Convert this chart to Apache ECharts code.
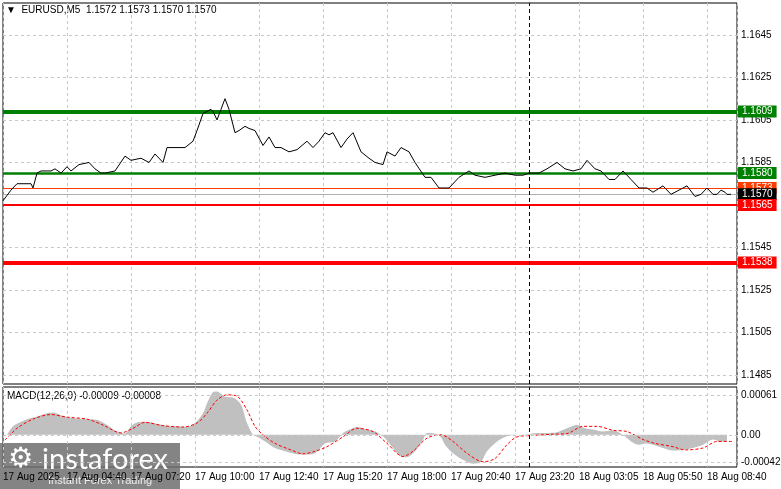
<!DOCTYPE html>
<html>
<head>
<meta charset="utf-8">
<script src="https://cdn.jsdelivr.net/npm/echarts@6/dist/echarts.min.js"></script>
<style>html,body{margin:0;padding:0;background:#fff}#main{width:781px;height:489px}</style>
</head>
<body>
<div id="main"></div>
<script>
// bar index (5 min bars) and close price
var priceBars = [0,4,7,14,15,17,19,24,26,29,32,34,38,43,46,49,51,56,61,64,69,73,76,77,80,82,91,95,97,100,104,105,107,109,111,113,116,118,121,123,126,130,133,136,139,143,147,152,155,158,161,163,165,169,172,175,179,183,186,190,192,196,199,203,206,211,214,218,223,228,233,236,241,246,251,256,260,263,268,272,277,281,285,289,292,296,299,303,306,310,314,318,322,325,330,334,338,342,346,349,352,355,357,359,361,362,364];
var priceVals = [1.1567,1.1572,1.1575,1.1575,1.1573,1.1580,1.1581,1.1581,1.1582,1.1580,1.1583,1.1581,1.1584,1.1585,1.1582,1.1580,1.1580,1.1581,1.1588,1.1586,1.1587,1.1585,1.1589,1.1588,1.1585,1.1592,1.1592,1.1595,1.1600,1.1608,1.1610,1.1609,1.1605,1.1610,1.1615,1.1610,1.1599,1.1600,1.1602,1.1601,1.1600,1.1593,1.1597,1.1592,1.1592,1.1590,1.1591,1.1595,1.1592,1.1595,1.1599,1.1598,1.1599,1.1592,1.1596,1.1599,1.1590,1.1587,1.1585,1.1584,1.1590,1.1588,1.1592,1.1590,1.1585,1.1578,1.1578,1.1573,1.1573,1.1578,1.1581,1.1579,1.1578,1.1579,1.1580,1.1579,1.1579,1.1580,1.1580,1.1582,1.1585,1.1582,1.1581,1.1582,1.1586,1.1582,1.1581,1.1577,1.1577,1.1581,1.1577,1.1573,1.1573,1.1571,1.1574,1.1570,1.1572,1.1574,1.1569,1.1570,1.1573,1.1570,1.1570,1.1572,1.1571,1.1570,1.1570];
// MACD histogram
var histBars = [2,5,9,12,17,22,25,29,32,37,42,47,52,57,61,64,67,72,77,82,87,92,96,100,102,105,107,111,115,119,122,125,127,131,136,141,146,151,156,161,166,170,174,177,182,187,191,195,199,202,206,210,212,216,219,221,225,230,235,239,242,247,252,257,262,267,272,277,282,287,291,295,300,305,310,314,318,321,325,330,335,340,345,350,355,359,362,365];
var histVals = [0,0.00013,0.00020,0.00024,0.00028,0.00033,0.00034,0.00030,0.00027,0.00025,0.00024,0.00023,0.00015,0.00005,0.00002,0.00013,0.00019,0.00020,0.00017,0.00014,0.00013,0.00012,0.00018,0.00033,0.00048,0.00065,0.00066,0.00058,0.00057,0.00046,0.00018,0,-0.00003,-0.00010,-0.00020,-0.00025,-0.00029,-0.00030,-0.00028,-0.00013,-0.00010,0.00003,0.00009,0.00012,0.00008,0.00004,-0.00005,-0.00020,-0.00033,-0.00034,-0.00025,-0.00008,0.00003,0.00002,-0.00004,-0.00015,-0.00028,-0.00038,-0.00044,-0.00041,-0.00025,-0.00010,-0.00002,0,0.00001,0.00003,0.00003,0.00004,0.00010,0.00015,0.00010,0.00008,0.00005,0.00007,0,-0.00010,-0.00015,-0.00013,-0.00015,-0.00020,-0.00024,-0.00023,-0.00020,-0.00015,-0.00007,-0.00010,-0.00010];
// MACD signal
var sigBars = [1,7,15,24,32,42,50,59,65,71,80,90,97,102,107,112,117,122,126,130,136,144,150,156,162,170,177,185,192,200,205,212,219,225,232,240,246,252,257,265,275,282,290,297,305,312,320,326,335,341,350,357,365];
var sigVals = [-0.00008,0.00010,0.00024,0.00031,0.00027,0.00024,0.00015,0.00003,0.00010,0.00019,0.00014,0.00012,0.00018,0.00033,0.00053,0.00061,0.00059,0.00038,0.00013,0,-0.00013,-0.00023,-0.00029,-0.00025,-0.00018,-0.00003,0.00010,0.00005,-0.00013,-0.00033,-0.00025,-0.00005,0,-0.00010,-0.00028,-0.00041,-0.00036,-0.00015,-0.00003,-0.00001,0.00001,0.00002,0.00013,0.00013,0.00007,0.00005,-0.00007,-0.00013,-0.00018,-0.00023,-0.00020,-0.00010,-0.00010];
var priceTicks = [1.1645,1.1625,1.1605,1.1585,1.1545,1.1525,1.1505,1.1485];
var macdTicks = [0.00061, 0, -0.00042];
var xLabels = ['17 Aug 2025','17 Aug 04:40','17 Aug 07:20','17 Aug 10:00','17 Aug 12:40','17 Aug 15:20','17 Aug 18:00','17 Aug 20:40','17 Aug 23:20','18 Aug 03:05','18 Aug 05:50','18 Aug 08:40'];
var levels = [
  {v:1.1609, c:'#008000', w:4},
  {v:1.1580, c:'#008000', w:2.5},
  {v:1.1573, c:'#ff3c00', w:1},
  {v:1.1570, c:'#b0b0b0', w:1, bg:'#000'},
  {v:1.1565, c:'#ff0000', w:2},
  {v:1.1538, c:'#ff0000', w:4}
];
var cursorBar = 263;

function zipData(a, b) { var r = []; for (var i = 0; i < a.length; i++) r.push([a[i], b[i]]); return r; }

var chart = echarts.init(document.getElementById('main'));
var dash = {type: [3, 3], color: '#c8c8c8', width: 1};
var font = '"Liberation Sans", Arial, sans-serif';
var cursorLine = {xAxis: cursorBar, label: {show: false}, lineStyle: {color: '#000', type: [4, 3], width: 1}};

var priceMarks = priceTicks.map(function (t) {
  return {yAxis: t, lineStyle: dash, label: {position: 'end', distance: 4, color: '#000', fontSize: 10, formatter: t.toFixed(4)}};
}).concat(levels.map(function (l) {
  return {yAxis: l.v, lineStyle: {color: l.c, width: l.w, type: 'solid'},
    label: {position: 'end', distance: 1, color: '#fff', backgroundColor: l.bg || l.c, padding: [1, 4, 1, 4], fontSize: 10, formatter: l.v.toFixed(4)}};
})).concat([cursorLine]);

var macdMarks = macdTicks.map(function (t) {
  return {yAxis: t, lineStyle: dash, label: {position: 'end', distance: 4, color: '#000', fontSize: 10, formatter: t === 0 ? '0.00' : t.toFixed(5)}};
}).concat([cursorLine]);

var xBase = {type: 'value', min: 0, max: 367, interval: 32,
  splitLine: {show: true, lineStyle: dash}, axisLine: {show: false}, axisTick: {show: false}};

var option = {
  animation: false,
  textStyle: {fontFamily: font},
  grid: [
    {left: 3, right: 44, top: 3, height: 381, show: true, borderColor: '#000', borderWidth: 1},
    {left: 3, right: 44, top: 387, height: 80, show: true, borderColor: '#000', borderWidth: 1}
  ],
  xAxis: [
    Object.assign({gridIndex: 0, axisLabel: {show: false}}, xBase),
    Object.assign({gridIndex: 1, axisLabel: {show: true, align: 'left', color: '#000', fontSize: 10, margin: 5, fontFamily: font,
      formatter: function (v) { return xLabels[Math.round(v / 32)] || ''; }}}, xBase)
  ],
  yAxis: [
    {gridIndex: 0, type: 'value', min: 1.14808, max: 1.1660, splitLine: {show: false}, axisLabel: {show: false}, axisTick: {show: false}, axisLine: {show: false}},
    {gridIndex: 1, type: 'value', min: -0.00049, max: 0.00073, splitLine: {show: false}, axisLabel: {show: false}, axisTick: {show: false}, axisLine: {show: false}}
  ],
  series: [
    {type: 'line', xAxisIndex: 0, yAxisIndex: 0, data: zipData(priceBars, priceVals), symbol: 'none', z: 6,
      lineStyle: {color: '#000', width: 1},
      markLine: {symbol: 'none', silent: true, precision: 5, data: priceMarks}},
    {type: 'line', xAxisIndex: 1, yAxisIndex: 1, data: zipData(histBars, histVals), symbol: 'none', smooth: 0.3,
      lineStyle: {width: 0}, areaStyle: {color: '#c0c0c0', opacity: 1, origin: 0},
      markLine: {symbol: 'none', silent: true, precision: 6, data: macdMarks}},
    {type: 'line', xAxisIndex: 1, yAxisIndex: 1, data: zipData(sigBars, sigVals), symbol: 'none', smooth: 0.3,
      lineStyle: {color: '#ff0000', width: 1, type: [3, 2]}}
  ],
  graphic: [
    {type: 'text', left: 6, top: 5, style: {text: '▼  EURUSD,M5  1.1572 1.1573 1.1570 1.1570', fill: '#000', font: '10px ' + font}},
    {type: 'text', left: 7, top: 391, style: {text: 'MACD(12,26,9) -0.00009 -0.00008', fill: '#000', font: '10px ' + font}},
    {type: 'rect', shape: {x: 0, y: 443, width: 180, height: 46}, style: {fill: 'rgba(110,110,110,0.85)'}},
    {type: 'text', left: 8, top: 446, style: {text: '⚙', fill: '#fff', font: '28px "DejaVu Sans"'}},
    {type: 'text', left: 42, top: 445, style: {text: 'instaforex', fill: '#fff', font: '29px Lato, sans-serif'}},
    {type: 'text', left: 48, top: 475, style: {text: 'Instant Forex Trading', fill: '#eee', font: '11px ' + font}}
  ]
};
chart.setOption(option);
</script>
</body>
</html>
